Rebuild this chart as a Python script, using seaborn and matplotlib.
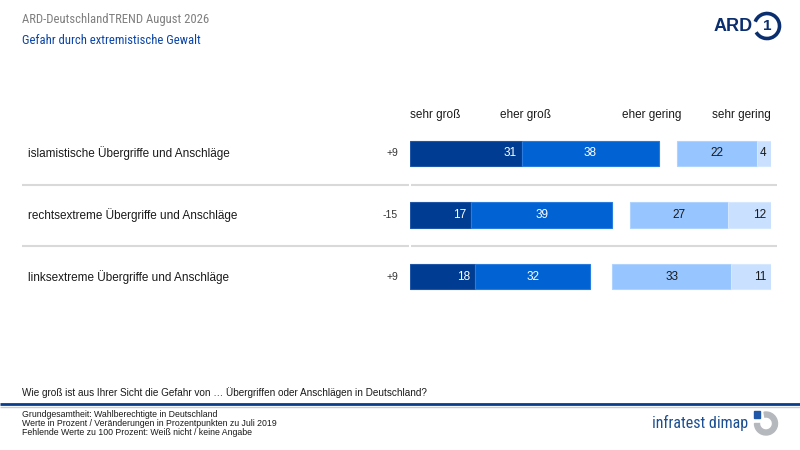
import numpy as np
import pandas as pd
import seaborn as sns
import matplotlib.pyplot as plt
from matplotlib.patches import Arc, Rectangle, Wedge

# Data
items = [
    "islamistische Übergriffe und Anschläge",
    "rechtsextreme Übergriffe und Anschläge",
    "linksextreme Übergriffe und Anschläge",
]
sehr_gross = [31, 17, 18]
eher_gross = [38, 39, 32]
eher_gering = [22, 27, 33]
sehr_gering = [4, 12, 11]
changes = ["+9", "-15", "+9"]
answer_labels = ["sehr groß", "eher groß", "eher gering", "sehr gering"]

colors = ["#003d92", "#0062d3", "#96c5ff", "#c9e1ff"]
edges = ["#1f56a8", "#2a7be0", "#aed3ff", "#d6e8ff"]
text_colors = ["white", "white", "#1a1a1a", "#1a1a1a"]

df = pd.DataFrame({
    "item": items,
    "sehr groß": sehr_gross,
    "eher groß": eher_gross,
    "eher gering": eher_gering,
    "sehr gering": sehr_gering,
})

# right block is aligned to the 100 mark
R = 100
g1 = np.array(sehr_gross)
g2 = np.array(eher_gross)
g3 = np.array(eher_gering)
g4 = np.array(sehr_gering)
lefts = [np.zeros(3), g1, R - g3 - g4, R - g4]

sns.set_style("white")
plt.rcParams["font.family"] = ["Liberation Sans", "DejaVu Sans"]
narrow = ["Roboto Condensed", "Liberation Sans", "DejaVu Sans"]

fig = plt.figure(figsize=(8, 4.5), dpi=100)

# overlay in pixel coordinates for decoration
bg = fig.add_axes([0, 0, 1, 1])
bg.set_xlim(0, 800)
bg.set_ylim(450, 0)
bg.axis("off")

# bar axes
top_px, bot_px = 122.75, 307.25
ax = fig.add_axes([410 / 800, 1 - bot_px / 450, 361 / 800, (bot_px - top_px) / 450])
ax.patch.set_alpha(0)

for col, left, c, ec in zip(answer_labels, lefts, colors, edges):
    sns.barplot(data=df, x=col, y="item", left=left, color=c, saturation=1,
                width=0.407, errorbar=None, edgecolor=ec, linewidth=0.8, ax=ax)

ax.set_xlim(0, R)
ax.set_ylim(2.5, -0.5)
ax.set_xlabel("")
ax.set_ylabel("")
ax.set_xticks([])
ax.set_yticks([])
sns.despine(ax=ax, left=True, bottom=True)

# value labels
for i in range(len(items)):
    vals = [g1[i], g2[i], g3[i], g4[i]]
    for j, v in enumerate(vals):
        start = lefts[j][i]
        end = start + v
        if j in (0, 3):
            ax.text(end - 1.4, i, str(v), ha="right", va="center",
                    color=text_colors[j], fontsize=8.5)
        else:
            ax.text((start + end) / 2, i, str(v), ha="center", va="center",
                    color=text_colors[j], fontsize=8.5)
    ax.text(-3.3, i, changes[i], ha="right", va="center", color="#333333",
            fontsize=7.5, clip_on=False)

# row labels and separators
row_y = [153.5, 215, 277]
for lab, y in zip(items, row_y):
    bg.text(28, y, lab, ha="left", va="center", fontsize=8.5, color="#1a1a1a")
for y in [184.5, 246]:
    bg.plot([22, 408.5], [y, y], color="#d9d9d9", lw=1.5, solid_capstyle="butt")
    bg.plot([411, 777], [y, y], color="#d9d9d9", lw=1.5, solid_capstyle="butt")

# column headers
bg.text(410, 115, answer_labels[0], ha="left", va="center", fontsize=8.5, color="#1a1a1a")
bg.text(526, 115, answer_labels[1], ha="center", va="center", fontsize=8.5, color="#1a1a1a")
bg.text(652, 115, answer_labels[2], ha="center", va="center", fontsize=8.5, color="#1a1a1a")
bg.text(771, 115, answer_labels[3], ha="right", va="center", fontsize=8.5, color="#1a1a1a")

# titles
bg.text(22, 23.3, "ARD-DeutschlandTREND August 2026", ha="left", va="baseline",
        fontsize=9.1, color="#7f7f7f", family=narrow)
bg.text(22, 43.5, "Gefahr durch extremistische Gewalt", ha="left", va="baseline",
        fontsize=9.1, color="#0a44a8", family=narrow)

# ARD logo
bg.text(733.5, 26.5, "ARD", ha="center", va="center", fontsize=13, fontweight="bold",
        color="#0b2f6e")
bg.add_patch(Arc((767, 26), 25, 25, theta1=-160, theta2=150, lw=2.6, color="#0b2f6e"))
bg.text(767.5, 26.5, "1", ha="center", va="center", fontsize=11, fontweight="bold",
        color="#0b2f6e")

# question and footer
bg.text(22, 393, "Wie groß ist aus Ihrer Sicht die Gefahr von … Übergriffen oder Anschlägen in Deutschland?",
        ha="left", va="center", fontsize=7.2, color="#1a1a1a")
bg.plot([0, 800], [404, 404], color="#0a3c8c", lw=2, solid_capstyle="butt")
bg.plot([0, 800], [406.5, 406.5], color="#c8ccd4", lw=1, solid_capstyle="butt")
footer = [
    "Grundgesamtheit: Wahlberechtigte in Deutschland",
    "Werte in Prozent / Veränderungen in Prozentpunkten zu Juli 2019",
    "Fehlende Werte zu 100 Prozent: Weiß nicht / keine Angabe",
]
for k, line in enumerate(footer):
    bg.text(22, 414.5 + 9 * k, line, ha="left", va="center", fontsize=6.3, color="#1a1a1a")

# infratest dimap logo
bg.text(652, 428, "infratest dimap", ha="left", va="baseline", fontsize=11.5,
        color="#1b4f91", family=narrow)
bg.add_patch(Wedge((766, 423.5), 11.5, -100, 180, width=5, color="#b5b8bd"))
bg.add_patch(Rectangle((754, 411), 6, 7, color="#2057a8"))

plt.savefig("out.png", dpi=100)
